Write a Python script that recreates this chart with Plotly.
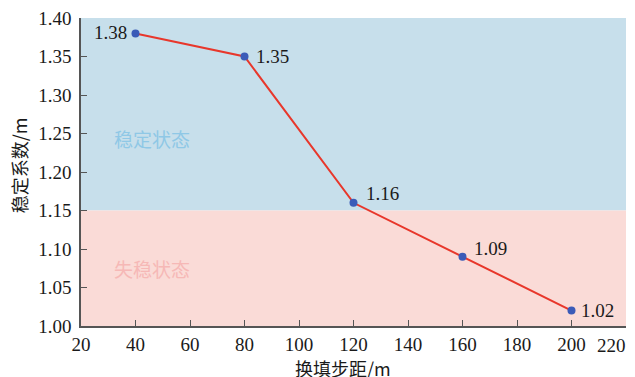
import plotly.graph_objects as go

step = [40, 80, 120, 160, 200]
factor = [1.38, 1.35, 1.16, 1.09, 1.02]
labels = ["1.38", "1.35", "1.16", "1.09", "1.02"]
x_ticks = [20, 40, 60, 80, 100, 120, 140, 160, 180, 200, 220]
y_ticks = [1.00, 1.05, 1.10, 1.15, 1.20, 1.25, 1.30, 1.35, 1.40]
threshold = 1.15
zone_names = ["稳定状态", "失稳状态"]
x_title = "换填步距/m"
y_title = "稳定系数/m"

# label placement (anchor side, x shift px, y shift px)
label_anchor = ["right", "left", "left", "left", "left"]
label_dx = [-7, 9, 10, 9, 7]
label_dy = [1, 0, 9, 8, 0]

serif = "Liberation Serif"
cjk = "Noto Sans CJK SC"

fig = go.Figure()
fig.add_shape(type="rect", xref="x", yref="y", x0=20, x1=220, y0=threshold, y1=1.40,
              fillcolor="#c7dfeb", line_width=0, layer="below")
fig.add_shape(type="rect", xref="x", yref="y", x0=20, x1=220, y0=1.0, y1=threshold,
              fillcolor="#fadbd7", line_width=0, layer="below")

fig.add_trace(go.Scatter(
    x=step, y=factor, mode="lines+markers",
    line=dict(color="#e8372b", width=2),
    marker=dict(color="#3b5bb8", size=8),
    cliponaxis=False, showlegend=False,
))

for xv, yv, t, anc, dx, dy in zip(step, factor, labels, label_anchor, label_dx, label_dy):
    fig.add_annotation(x=xv, y=yv, xref="x", yref="y", text=t, showarrow=False,
                       xanchor=anc, yanchor="middle", xshift=dx, yshift=dy,
                       font=dict(family=serif, size=19, color="#1a1a1a"))

fig.add_annotation(x=46, y=1.244, xref="x", yref="y", text=zone_names[0], showarrow=False,
                   font=dict(family=cjk, size=19, color="#8fc8e6"))
fig.add_annotation(x=46, y=1.075, xref="x", yref="y", text=zone_names[1], showarrow=False,
                   font=dict(family=cjk, size=19, color="#f6b8b6"))

# the last x tick label sits pulled in from the axis end in the reference
tick_text = [str(v) for v in x_ticks]
tick_text[-1] = ""
fig.add_annotation(x=1, y=0, xref="paper", yref="paper", text=str(x_ticks[-1]), showarrow=False,
                   xanchor="right", yanchor="top", xshift=2, yshift=-7,
                   font=dict(family=serif, size=19, color="#1a1a1a"))

fig.add_annotation(x=0.4805, y=-0.136, xref="paper", yref="paper", text=x_title, showarrow=False,
                   xanchor="center", yanchor="middle",
                   font=dict(family=cjk, size=18, color="#1a1a1a"))
fig.add_annotation(x=-0.113, y=0.523, xref="paper", yref="paper", text=y_title, showarrow=False,
                   textangle=-90, xanchor="center", yanchor="middle",
                   font=dict(family=cjk, size=18, color="#1a1a1a"))

axis_common = dict(showgrid=False, zeroline=False, showline=True, linecolor="#555555", linewidth=1.5,
                   ticks="inside", ticklen=6, tickcolor="#555555", tickwidth=1.2, automargin=False,
                   ticklabeloverflow="allow",
                   tickfont=dict(family=serif, size=19, color="#1a1a1a"))

fig.update_xaxes(range=[20, 220], tickvals=x_ticks, ticktext=tick_text,
                 ticklabelstandoff=0, **axis_common)
fig.update_yaxes(range=[1.0, 1.40], tickvals=y_ticks, ticktext=[f"{v:.2f}" for v in y_ticks],
                 ticklabelstandoff=4, **axis_common)

# page body adds an 8px offset, so the figure is sized to fill the rest of the window
fig.update_layout(
    width=627, height=369,
    margin=dict(l=73, r=9, t=10, b=51),
    paper_bgcolor="white", plot_bgcolor="white",
)

fig.write_html("out.html")
